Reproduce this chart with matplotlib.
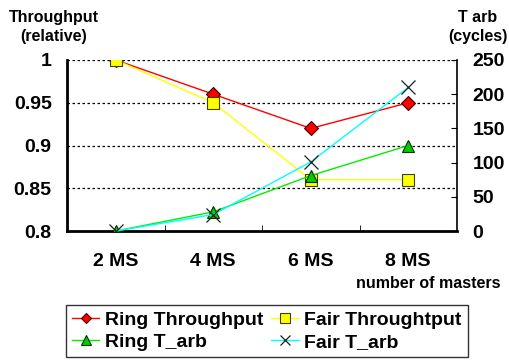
import numpy as np
import matplotlib
matplotlib.use('Agg')
from matplotlib import pyplot as plt

plt.rcParams['font.family'] = ['Liberation Sans', 'DejaVu Sans']
plt.rcParams['font.weight'] = 'bold'

categories = ['2 MS', '4 MS', '6 MS', '8 MS']
ring_tp = [1.0, 0.96, 0.92, 0.95]
fair_tp = [1.0, 0.95, 0.86, 0.86]
ring_tarb = [0, 28, 81, 125]
fair_tarb = [0, 24, 101, 210]

x = np.arange(len(categories))

fig = plt.figure(figsize=(5.09, 3.61), dpi=100)
ax = fig.add_axes([67/509, 1-231/361, 390/509, 171/361])
ax2 = ax.twinx()

l1, = ax.plot(x, ring_tp, color='#ff0000', lw=1, marker='D', ms=7,
              mfc='#ff0000', mec='#400000', mew=0.8, label='Ring Throughput', zorder=5)
l2, = ax.plot(x, fair_tp, color='#ffff00', lw=1, marker='s', ms=9,
              mfc='#ffff00', mec='#404000', mew=0.8, label='Fair Throughtput', zorder=5)
l3, = ax2.plot(x, ring_tarb, color='#00ee00', lw=1, marker='^', ms=9,
               mfc='#00cc00', mec='#003000', mew=0.8, label='Ring T_arb', zorder=5)
l4, = ax2.plot(x, fair_tarb, color='#00ffff', lw=1, marker='x', ms=10,
               mfc='none', mec='#202020', mew=0.9, label='Fair T_arb', zorder=5)

ax.set_xlim(-0.5, 3.5)
ax.set_ylim(0.8, 1.0)
ax2.set_ylim(0, 250)
ax.set_yticks([0.8, 0.85, 0.9, 0.95, 1.0])
ax.set_yticklabels(['0.8', '0.85', '0.9', '0.95', '1'], fontsize=14, fontweight='bold')
ax.tick_params(axis='y', length=0, pad=11)
for yv in [0.85, 0.9, 0.95, 1.0]:
    ax.axhline(yv, color='black', lw=0.9, ls=(0, (2, 2)), zorder=1)

ax2.set_yticks([0, 50, 100, 150, 200, 250])
ax2.set_yticklabels(['0', '50', '100', '150', '200', '250'], fontsize=14, fontweight='bold')
ax2.tick_params(axis='y', direction='in', length=4, pad=11)

ax.set_xticks(x)
ax.set_xticklabels(categories, fontsize=14, fontweight='bold')
ax.set_xticks([0.5, 1.5, 2.5], minor=True)
ax.tick_params(axis='x', which='major', length=0, pad=16)
ax.tick_params(axis='x', which='minor', direction='in', length=4)

ax.spines['top'].set_visible(False)
ax2.spines['top'].set_visible(False)
ax.spines['left'].set_linewidth(2)
ax.spines['bottom'].set_linewidth(2)
ax2.spines['left'].set_visible(False)
ax2.spines['bottom'].set_visible(False)
ax.spines['right'].set_visible(False)
ax2.spines['right'].set_linewidth(1.2)

fig.text(54/509, 1-27/361, 'Throughput\n(relative)', ha='center', va='center',
         fontsize=11.5, fontweight='bold', linespacing=1.3)
fig.text(478/509, 1-27/361, 'T arb\n(cycles)', ha='center', va='center',
         fontsize=11.5, fontweight='bold', linespacing=1.3)
fig.text(428/509, 1-284/361, 'number of masters', ha='center', va='center',
         fontsize=11.5, fontweight='bold')

leg = fig.legend(handles=[l1, l3, l2, l4], ncol=2, loc='center',
                 bbox_to_anchor=(267/509, 1-331/361), frameon=True, fancybox=False,
                 edgecolor='black', prop={'size': 14, 'weight': 'bold'},
                 handlelength=1.4, handletextpad=0.3, columnspacing=0.4,
                 labelspacing=0.25, borderpad=0.3, borderaxespad=0, markerscale=0.75)
leg.get_frame().set_linewidth(1)

fig.savefig('out.png', dpi=100)
